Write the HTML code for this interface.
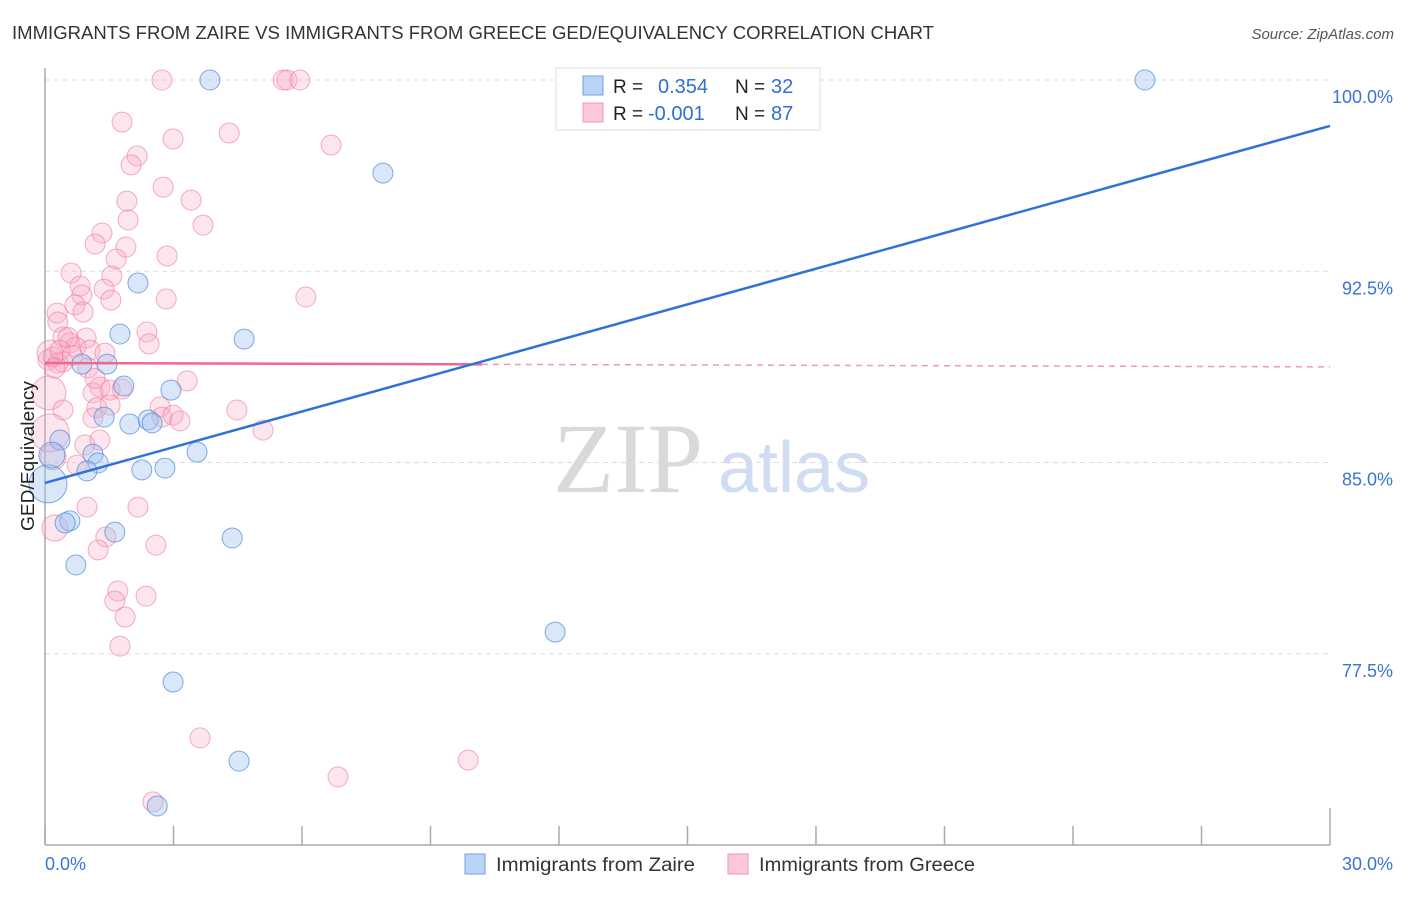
<!DOCTYPE html>
<html><head><meta charset="utf-8"><style>
body{margin:0;background:#fff;font-family:"Liberation Sans",sans-serif;}
svg text{font-family:"Liberation Sans",sans-serif;}
</style></head><body>
<svg id="chart" width="1406" height="892" xmlns="http://www.w3.org/2000/svg">
<text x="12" y="39" font-size="18.5" fill="#333" textLength="922" lengthAdjust="spacingAndGlyphs">IMMIGRANTS FROM ZAIRE VS IMMIGRANTS FROM GREECE GED/EQUIVALENCY CORRELATION CHART</text>
<text x="1394" y="39" font-size="15" fill="#555" font-style="italic" text-anchor="end">Source: ZipAtlas.com</text>
<g>
<text x="553" y="492" font-size="100" fill="#d9d9d9" font-family="Liberation Serif" style="font-family:'Liberation Serif',serif">ZIP</text>
<text x="718" y="492" font-size="72" fill="#cfdcf2">atlas</text>
</g>
<g id="grid"></g>
<g id="axes"></g>
<g id="points"></g>
<g id="trends"></g>
<text transform="translate(34,456) rotate(-90)" font-size="18" fill="#222" text-anchor="middle" textLength="150" lengthAdjust="spacingAndGlyphs">GED/Equivalency</text>
<g>
<rect x="556" y="68" width="264" height="62" fill="#fff" stroke="#ddd"/>
<rect x="583" y="76" width="20" height="19" fill="#b9d3f6" stroke="#6e9fe0"/>
<rect x="583" y="103" width="20" height="19" fill="#fcc8d7" stroke="#ec9ab2"/>
<text x="613" y="93" font-size="19" fill="#222">R =</text>
<text x="658" y="93" font-size="20" fill="#2f6fd6">0.354</text>
<text x="735" y="93" font-size="19" fill="#222">N =</text>
<text x="771" y="93" font-size="20" fill="#2f6fd6">32</text>
<text x="613" y="120" font-size="19" fill="#222">R =</text>
<text x="648" y="120" font-size="20" fill="#2f6fd6">-0.001</text>
<text x="735" y="120" font-size="19" fill="#222">N =</text>
<text x="771" y="120" font-size="20" fill="#2f6fd6">87</text>
</g>
<g>
<rect x="465" y="854" width="20" height="20" fill="#b9d3f6" stroke="#6e9fe0"/>
<text x="496" y="871" font-size="19" fill="#333" textLength="199" lengthAdjust="spacingAndGlyphs">Immigrants from Zaire</text>
<rect x="728" y="854" width="20" height="20" fill="#fcc8d7" stroke="#ec9ab2"/>
<text x="759" y="871" font-size="19" fill="#333" textLength="216" lengthAdjust="spacingAndGlyphs">Immigrants from Greece</text>
</g>
</svg>
<script>
const yTicks=[100,92.5,85,77.5];
const yTickLabels=["100.0%","92.5%","85.0%","77.5%"];
const xTicks=[0,3,6,9,12,15,18,21,24,27,30];
const xEndLabels=["0.0%","30.0%"];
const zaireX=[3.85,25.68,7.89,2.17,1.75,4.65,0.86,1.45,1.84,2.94,1.38,1.98,2.41,2.50,0.35,1.12,1.24,0.98,2.26,2.80,3.55,0.07,0.16,0.58,0.47,1.63,4.37,0.72,11.91,2.99,4.53,2.62];
const zaireY=[100,100,96.35,92.04,90.04,89.84,88.86,88.86,88.0,87.84,86.78,86.51,86.67,86.55,85.88,85.33,84.98,84.67,84.71,84.78,85.41,84.16,85.29,82.71,82.63,82.27,82.04,80.98,78.35,76.39,73.29,71.53];
const zaireR=[10,10,10,10,10,10,10,10,10,10,10,10,10,10,10,10,10,10,10,10,10,19,13,10,10,10,10,10,10,10,10,10];
const greeceX=[2.73,5.56,5.65,5.95,1.80,2.99,4.30,6.68,2.15,2.01,2.76,3.41,1.91,1.94,3.69,1.33,1.17,1.89,2.85,1.66,0.61,1.56,0.82,1.38,0.86,6.09,2.83,1.54,0.70,0.28,0.89,0.30,2.38,0.42,0.96,2.43,0.58,0.72,1.05,0.12,0.19,1.40,0.42,1.00,0.30,0.07,3.32,0.09,1.28,1.52,1.12,1.80,0.42,1.21,1.52,4.48,2.69,2.73,2.99,3.15,1.12,5.09,0.12,1.28,0.93,0.19,0.75,0.98,2.17,0.23,1.42,2.59,1.24,1.70,1.63,2.36,1.87,1.75,3.62,2.52,6.84,9.88,0.54,0.35,0.64,0.23,1.17];
const greeceY=[100,100,100,100,98.35,97.69,97.92,97.45,97.02,96.67,95.80,95.29,95.25,94.51,94.31,94.0,93.57,93.45,93.10,92.98,92.43,92.31,91.92,91.80,91.57,91.49,91.41,91.37,91.18,90.86,90.90,90.51,90.12,89.92,89.88,89.65,89.69,89.53,89.41,89.29,89.14,89.29,88.94,88.71,88.90,89.02,88.20,87.73,87.96,87.84,87.73,87.88,87.06,87.14,87.25,87.06,87.18,86.78,86.86,86.63,86.75,86.27,86.16,85.88,85.69,85.22,84.90,83.25,83.25,82.43,82.08,81.76,81.57,79.96,79.57,79.76,78.94,77.80,74.20,71.69,72.67,73.33,89.9,89.4,89.2,88.7,88.3];
const greeceR=[10,10,10,10,10,10,10,10,10,10,10,10,10,10,10,10,10,10,10,10,10,10,10,10,10,10,10,10,10,10,10,10,10,10,10,10,10,10,10,13,10,10,10,10,10,10,10,17,10,10,10,10,10,10,10,10,10,10,10,10,10,10,19,10,10,13,10,10,10,13,10,10,10,10,10,10,10,10,10,10,10,10,10,10,10,10,10];
const zaireTrend=[84.2,98.2];
const greeceTrend=[88.9,88.75];
const greeceSolidEnd=10.2;

const X=v=>45+v*42.833;
const Y=v=>80+(100-v)*25.5;
const NS="http://www.w3.org/2000/svg";
function mk(tag,attrs,parent){const e=document.createElementNS(NS,tag);for(const k in attrs)e.setAttribute(k,attrs[k]);parent.appendChild(e);return e;}
const grid=document.getElementById('grid'),axes=document.getElementById('axes'),pts=document.getElementById('points'),tr=document.getElementById('trends');
yTicks.forEach((t,i)=>{
 const l=mk('line',{x1:45,x2:1330,y1:Y(t),y2:Y(t),stroke:'#ddd','stroke-dasharray':'5,4'},grid);
 
 
 const tx=mk('text',{x:1393,y:Y(t)+23,'font-size':18,fill:'#3b73d6','text-anchor':'end'},axes);
 tx.textContent=yTickLabels[i];
 
 
});
const ya=mk('line',{x1:45,x2:45,y1:68,y2:845,stroke:'#aaa','stroke-width':1.5},axes);


const xa=mk('line',{x1:45,x2:1330,y1:845,y2:845,stroke:'#aaa','stroke-width':1.5},axes);


xTicks.forEach((t,i)=>{
 const tk=mk('line',{x1:X(t),x2:X(t),y1:(i==xTicks.length-1?808:826),y2:845,stroke:'#aaa','stroke-width':1.5},axes);
 
 
});
const xl0=mk('text',{x:45,y:870,'font-size':18,fill:'#3b73d6'},axes);xl0.textContent=xEndLabels[0];


const xl1=mk('text',{x:1393,y:870,'font-size':18,fill:'#3b73d6','text-anchor':'end'},axes);xl1.textContent=xEndLabels[1];


greeceX.forEach((v,i)=>{
 const c=mk('circle',{cx:X(v),cy:Y(greeceY[i]),r:greeceR[i],fill:'rgba(248,170,195,0.3)',stroke:'rgba(236,120,155,0.6)','stroke-width':1},pts);
 
 
});
zaireX.forEach((v,i)=>{
 const c=mk('circle',{cx:X(v),cy:Y(zaireY[i]),r:zaireR[i],fill:'rgba(160,195,240,0.4)',stroke:'rgba(80,135,215,0.7)','stroke-width':1},pts);
 
 
});
const gs=Y(greeceTrend[0]),ge=Y(greeceTrend[1]);
const gm=greeceTrend[0]+(greeceTrend[1]-greeceTrend[0])*greeceSolidEnd/30;
const g1=mk('line',{x1:X(0),y1:gs,x2:X(greeceSolidEnd),y2:Y(gm),stroke:'#ec6a92','stroke-width':2.5},tr);


const g2=mk('line',{x1:X(greeceSolidEnd),y1:Y(gm),x2:X(30),y2:ge,stroke:'#ef9ab4','stroke-width':1.5,'stroke-dasharray':'6,5'},tr);


const z=mk('line',{x1:X(0),y1:Y(zaireTrend[0]),x2:X(30),y2:Y(zaireTrend[1]),stroke:'#2f73d8','stroke-width':2.5},tr);


</script>
</body></html>
